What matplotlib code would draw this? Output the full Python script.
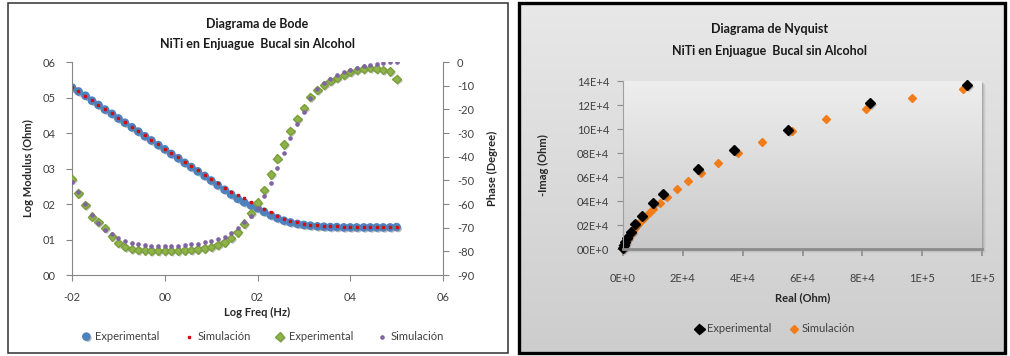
import matplotlib
matplotlib.use("Agg")
import matplotlib.pyplot as plt
import matplotlib.patheffects as pe
from matplotlib.patches import Rectangle
from matplotlib.colors import LinearSegmentedColormap
import numpy as np

plt.rcParams['font.family'] = ['Lato', 'DejaVu Sans']

# ---------------- Bode data ----------------
log_freq = [-0.200, -0.186, -0.171, -0.157, -0.143, -0.129, -0.114, -0.100, -0.086, -0.071,
            -0.057, -0.043, -0.029, -0.014, 0.000, 0.014, 0.029, 0.043, 0.057, 0.071,
            0.086, 0.100, 0.114, 0.129, 0.143, 0.157, 0.171, 0.186, 0.200, 0.214,
            0.229, 0.243, 0.257, 0.271, 0.286, 0.300, 0.314, 0.329, 0.343, 0.357,
            0.371, 0.386, 0.400, 0.414, 0.429, 0.443, 0.457, 0.471, 0.486, 0.500]

modulus_exp = [0.528, 0.517, 0.505, 0.491, 0.479, 0.466, 0.454, 0.441, 0.429, 0.416,
               0.404, 0.391, 0.379, 0.366, 0.354, 0.341, 0.329, 0.316, 0.304, 0.292,
               0.279, 0.266, 0.253, 0.240, 0.227, 0.215, 0.205, 0.196, 0.188, 0.178,
               0.168, 0.160, 0.153, 0.148, 0.144, 0.141, 0.139, 0.137, 0.136, 0.135,
               0.135, 0.134, 0.134, 0.134, 0.134, 0.134, 0.134, 0.134, 0.134, 0.135]

modulus_sim = [0.530, 0.518, 0.505, 0.493, 0.480, 0.468, 0.455, 0.443, 0.431, 0.418,
               0.406, 0.393, 0.381, 0.368, 0.356, 0.344, 0.331, 0.319, 0.307, 0.295,
               0.283, 0.271, 0.259, 0.246, 0.234, 0.225, 0.216, 0.207, 0.198, 0.187,
               0.177, 0.167, 0.159, 0.153, 0.148, 0.144, 0.142, 0.140, 0.139, 0.138,
               0.137, 0.136, 0.136, 0.136, 0.136, 0.136, 0.136, 0.136, 0.136, 0.136]

phase_exp = [-49.5, -55.5, -60.5, -65.3, -67.6, -70.1, -73.7, -76.5, -78.2, -79.0,
             -79.4, -79.6, -79.7, -79.7, -79.7, -79.7, -79.7, -79.6, -79.4, -79.2,
             -78.8, -78.2, -77.4, -76.2, -74.4, -72.0, -68.3, -64.0, -59.4, -54.0,
             -47.5, -40.8, -34.8, -29.2, -24.1, -19.4, -14.8, -11.8, -9.7, -8.0,
             -6.8, -5.5, -4.2, -3.4, -2.8, -2.5, -2.8, -3.3, -4.0, -7.2]

phase_sim = [-50.5, -55.0, -60.0, -64.5, -68.0, -70.8, -72.8, -74.4, -75.5, -76.3,
             -76.9, -77.3, -77.6, -77.7, -77.7, -77.7, -77.6, -77.4, -77.1, -76.7,
             -76.2, -75.6, -74.8, -73.8, -72.3, -70.3, -67.8, -65.0, -61.5, -56.8,
             -51.0, -44.8, -38.5, -32.3, -26.3, -21.0, -15.0, -11.5, -9.0, -7.0,
             -5.4, -4.3, -3.3, -2.5, -1.8, -1.2, -0.7, -0.4, -0.2, -0.1]

bode_x_ticks = [-0.2, 0.0, 0.2, 0.4, 0.6]
bode_x_labels = ["-02", "00", "02", "04", "06"]
mod_ticks = [0.0, 0.1, 0.2, 0.3, 0.4, 0.5, 0.6]
mod_labels = ["00", "01", "02", "03", "04", "05", "06"]
phase_ticks = [-90, -80, -70, -60, -50, -40, -30, -20, -10, 0]
phase_labels = ["-90", "-80", "-70", "-60", "-50", "-40", "-30", "-20", "-10", "0"]

# ---------------- Nyquist data ----------------
real_exp = [114990, 82560, 55150, 37100, 25070, 13370, 10030, 6350, 4010, 2670, 1340, 670, 250, 60]
imag_exp = [136700, 121700, 99200, 82500, 66700, 45800, 38300, 27500, 20800, 14200, 9200, 5800, 3000, 800]

real_sim = [113650, 96600, 81200, 67850, 56500, 46460, 38440, 31750, 26070, 21730,
            18050, 14710, 12370, 10030, 8690, 7020, 5680, 5000, 4400, 3850,
            3350, 2900, 2450, 2050, 1700, 1350, 1050, 800, 580, 400, 250, 130, 50]
imag_sim = [133300, 125800, 116700, 108300, 98300, 89200, 80000, 71700, 63300, 56700,
            50000, 43300, 38300, 33300, 30000, 25800, 22500, 20800, 19000, 17200,
            15400, 13700, 12000, 10300, 8700, 7200, 5800, 4500, 3400, 2400, 1500, 800, 300]

nyq_x_ticks = [0, 20000, 40000, 60000, 80000, 100000, 120000]
nyq_x_labels = ["0E+0", "2E+4", "4E+4", "6E+4", "8E+4", "1E+5", "1E+5"]
nyq_y_ticks = [0, 20000, 40000, 60000, 80000, 100000, 120000, 140000]
nyq_y_labels = ["00E+0", "02E+4", "04E+4", "06E+4", "08E+4", "10E+4", "12E+4", "14E+4"]

# ---------------- figure ----------------
W, H = 1010, 356
fig = plt.figure(figsize=(W / 100, H / 100), dpi=100)
fig.patch.set_facecolor('white')


def rect_px(left, top, right, bottom):
    return [left / W, 1 - bottom / H, (right - left) / W, (bottom - top) / H]


AXIS_GRAY = '#868686'
TEXT_GRAY = '#404040'
shadow = [pe.SimplePatchShadow(offset=(1.2, -1.2), shadow_rgbFace='#404040', alpha=0.35), pe.Normal()]

# ---- Bode panel ----
fig.add_artist(Rectangle((8 / W, 1 - 353 / H), 500 / W, 350 / H, transform=fig.transFigure,
                         fill=False, ec='#303030', lw=1.1, zorder=5))

ax = fig.add_axes(rect_px(72, 62, 443, 275))
ax.set_xlim(-0.2, 0.6)
ax.set_ylim(0, 0.6)
ax2 = ax.twinx()
ax2.set_ylim(-90, 0)

for a in (ax, ax2):
    a.spines['top'].set_visible(False)
    for s in ('left', 'right', 'bottom'):
        a.spines[s].set_color(AXIS_GRAY)
        a.spines[s].set_linewidth(0.8)
ax.spines['right'].set_visible(False)
ax2.spines['left'].set_visible(False)
ax2.spines['bottom'].set_visible(False)

ax.set_xticks(bode_x_ticks)
ax.set_xticklabels(bode_x_labels)
ax.set_yticks(mod_ticks)
ax.set_yticklabels(mod_labels)
ax2.set_yticks(phase_ticks)
ax2.set_yticklabels(phase_labels)
ax.tick_params(axis='x', direction='out', length=4, color=AXIS_GRAY, labelsize=8,
               labelcolor=TEXT_GRAY, pad=8)
ax.tick_params(axis='y', direction='out', length=4, color=AXIS_GRAY, labelsize=8,
               labelcolor=TEXT_GRAY, pad=8)
ax2.tick_params(axis='y', direction='out', length=4, color=AXIS_GRAY, labelsize=8,
                labelcolor=TEXT_GRAY, pad=6)

l1, = ax.plot(log_freq, modulus_exp, 'o', color='#4F81BD', ms=5.2, mec='#4F81BD',
              ls='none', path_effects=shadow, label='Experimental')
l2, = ax.plot(log_freq, modulus_sim, 's', color='#D01010', ms=2.0, ls='none', label='Simulación')
l3, = ax2.plot(log_freq, phase_exp, 'D', color='#8FB34A', mec='#7A9E3A', ms=4.3,
               ls='none', path_effects=shadow, label='Experimental')
l4, = ax2.plot(log_freq, phase_sim, 'o', color='#8064A2', ms=2.3, ls='none', label='Simulación')

ax.set_xlabel('Log Freq (Hz)', fontsize=8, fontweight='bold', color='#262626', labelpad=3)
ax.set_ylabel('Log Modulus (Ohm)', fontsize=8, fontweight='bold', color='#262626', labelpad=6)
ax2.set_ylabel('Phase (Degree)', fontsize=8, fontweight='bold', color='#262626', labelpad=9)

fig.text(257 / W, 1 - 24 / H, 'Diagrama de Bode', ha='center', va='center',
         fontsize=9, fontweight='bold', color='#1a1a1a')
fig.text(257 / W, 1 - 44 / H, 'NiTi en Enjuague  Bucal sin Alcohol', ha='center', va='center',
         fontsize=9, fontweight='bold', color='#1a1a1a')

fig.legend([l1, l2, l3, l4], ['Experimental', 'Simulación', 'Experimental', 'Simulación'],
           loc='center', bbox_to_anchor=(263 / W, 1 - 337 / H), ncol=4, frameon=False,
           fontsize=8, handlelength=0.8, handletextpad=0.4, columnspacing=2.2,
           labelcolor=TEXT_GRAY)

# ---- Nyquist panel ----
def gradient_axes(rect, top, bottom, z):
    g = fig.add_axes(rect, zorder=z)
    cmap = LinearSegmentedColormap.from_list('panel', [bottom, top])
    g.imshow(np.linspace(0, 1, 256).reshape(-1, 1), aspect='auto', cmap=cmap,
             origin='lower', extent=[0, 1, 0, 1])
    g.set_axis_off()
    return g


gradient_axes(rect_px(519, 3, 1005, 353), '#e8e8e8', '#cdcdcd', -2)

# soft shadow behind the plot area
for k, alpha in ((1, 0.22), (2, 0.16), (3, 0.10), (4, 0.06)):
    fig.add_artist(Rectangle(((623 + k) / W, 1 - (249 + k) / H), 359 / W, 168 / H,
                             transform=fig.transFigure, fc='#6a6a6a', ec='none',
                             alpha=alpha, zorder=-1.5))

gradient_axes(rect_px(623, 81, 982, 249), '#eeeeee', '#c9c9c9', -1)

fig.add_artist(Rectangle((519 / W, 1 - 353 / H), 486 / W, 350 / H, transform=fig.transFigure,
                         fill=False, ec='black', lw=2.4, zorder=6))

nx = fig.add_axes(rect_px(623, 81, 982, 249), zorder=1)
nx.set_facecolor('none')
nx.set_xlim(0, 120000)
nx.set_ylim(0, 140000)
nx.spines['top'].set_visible(False)
nx.spines['right'].set_visible(False)
nx.spines['left'].set_color('#a0a0a0')
nx.spines['left'].set_linewidth(0.8)
nx.spines['bottom'].set_color('#8c8c8c')
nx.spines['bottom'].set_linewidth(2.0)
nx.set_xticks(nyq_x_ticks)
nx.set_xticklabels(nyq_x_labels)
nx.set_yticks(nyq_y_ticks)
nx.set_yticklabels(nyq_y_labels)
nx.tick_params(axis='x', direction='out', length=5, width=1.2, color='#8c8c8c', labelsize=8,
               labelcolor=TEXT_GRAY, pad=12)
nx.tick_params(axis='y', direction='out', length=4, color='#8c8c8c', labelsize=8,
               labelcolor=TEXT_GRAY, pad=6)

n2, = nx.plot(real_sim, imag_sim, 'D', color='#F07D1A', ms=3.6, ls='none', label='Simulación',
              clip_on=False)
n1, = nx.plot(real_exp, imag_exp, 'D', color='black', ms=5.2, ls='none', label='Experimental',
              path_effects=shadow, clip_on=False)

nx.set_xlabel('Real (Ohm)', fontsize=8, fontweight='bold', color='#262626', labelpad=6)
nx.set_ylabel('-Imag (Ohm)', fontsize=8, fontweight='bold', color='#262626', labelpad=20)

fig.text(770 / W, 1 - 29 / H, 'Diagrama de Nyquist', ha='center', va='center',
         fontsize=9, fontweight='bold', color='#1a1a1a')
fig.text(770 / W, 1 - 51 / H, 'NiTi en Enjuague  Bucal sin Alcohol', ha='center', va='center',
         fontsize=9, fontweight='bold', color='#1a1a1a')

fig.legend([n1, n2], ['Experimental', 'Simulación'], loc='center',
           bbox_to_anchor=(775 / W, 1 - 329 / H), ncol=2, frameon=False, fontsize=8,
           handlelength=0.8, handletextpad=0.3, columnspacing=1.6, labelcolor=TEXT_GRAY)

fig.savefig('out.png', dpi=100)
